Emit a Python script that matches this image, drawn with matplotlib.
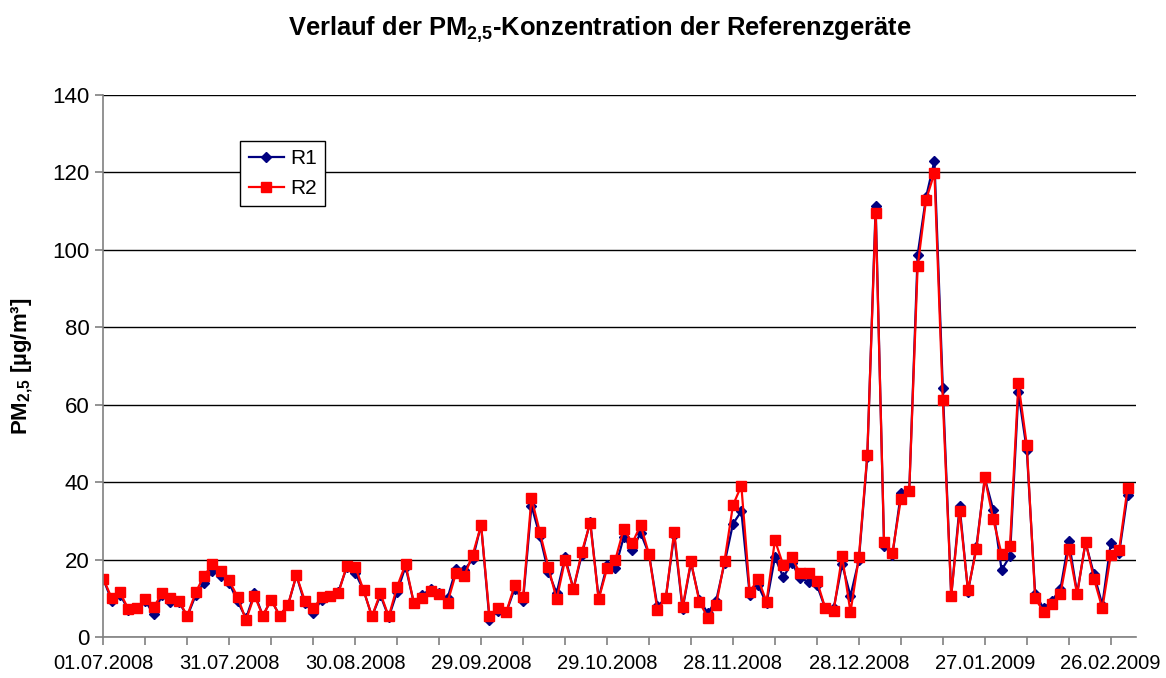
import numpy as np
import pandas as pd
import matplotlib
matplotlib.use("Agg")
import matplotlib.pyplot as plt
import matplotlib.dates as mdates

plt.rcParams["font.family"] = ["Liberation Sans", "DejaVu Sans"]
plt.rcParams["mathtext.fontset"] = "custom"
plt.rcParams["mathtext.default"] = "regular"

# ===== DATA =====
start = pd.Timestamp("2008-07-01")
dates = pd.date_range(start, periods=123, freq="2D")

r1 = [15.0, 9.4, 10.9, 7.0, 7.4, 9.3, 5.9, 10.9, 9.0, 9.1,
      5.3, 10.8, 14.0, 17.0, 15.8, 13.9, 9.2, 4.8, 11.3, 5.5,
      9.6, 5.5, 8.2, 15.9, 8.7, 6.3, 9.6, 10.6, 11.7, 18.0,
      16.6, 12.1, 5.3, 10.8, 5.1, 11.7, 18.2, 8.7, 10.8, 12.5,
      11.3, 10.0, 17.5, 17.3, 20.1, 29.0, 4.4, 6.8, 6.4, 12.5,
      9.4, 33.9, 26.1, 16.9, 11.3, 20.6, 12.4, 21.3, 29.8, 10.0,
      18.5, 17.9, 25.9, 22.5, 26.9, 21.4, 7.9, 10.0, 26.4, 7.2,
      19.2, 9.6, 6.2, 9.4, 19.1, 29.2, 32.5, 10.9, 13.3, 8.7,
      20.6, 15.4, 19.2, 15.2, 14.3, 13.4, 7.4, 7.4, 18.8, 10.6,
      19.9, 46.4, 111.2, 23.6, 21.2, 37.1, 37.7, 98.7, 113.6, 123.0,
      64.2, 10.6, 33.8, 11.7, 23.3, 41.0, 32.9, 17.3, 20.9, 63.2,
      48.3, 11.1, 7.4, 9.4, 12.3, 24.8, 11.3, 24.4, 16.2, 8.3,
      24.2, 21.6, 36.7]

r2 = [15.1, 10.0, 11.5, 7.1, 7.4, 9.9, 7.7, 11.3, 10.0, 9.3,
      5.5, 11.5, 15.8, 18.8, 17.0, 14.6, 10.3, 4.4, 10.7, 5.5,
      9.6, 5.5, 8.3, 15.9, 9.4, 7.4, 10.2, 10.6, 11.3, 18.4,
      18.2, 12.1, 5.3, 11.3, 5.3, 13.0, 18.8, 8.7, 10.0, 12.0,
      11.0, 8.9, 16.4, 15.8, 21.2, 28.9, 5.3, 7.4, 6.4, 13.4,
      10.2, 35.9, 27.1, 18.2, 9.7, 19.9, 12.4, 22.0, 29.5, 9.7,
      17.7, 20.0, 28.0, 24.2, 28.9, 21.4, 7.0, 10.0, 27.2, 7.7,
      19.5, 9.1, 5.0, 8.3, 19.7, 34.0, 39.1, 11.6, 15.0, 9.1,
      25.0, 18.5, 20.6, 16.4, 16.4, 14.5, 7.4, 6.8, 20.9, 6.4,
      20.6, 47.0, 109.5, 24.5, 21.8, 35.6, 37.8, 95.7, 112.9, 119.9,
      61.2, 10.6, 32.6, 12.1, 22.7, 41.2, 30.4, 21.4, 23.5, 65.5,
      49.6, 10.0, 6.5, 8.4, 11.0, 22.8, 11.0, 24.6, 15.1, 7.4,
      21.1, 22.5, 38.4]

labels = ["R1", "R2"]
# ================

fig = plt.figure(figsize=(11.66, 6.78), dpi=100)
ax = fig.add_axes([0.0886, 0.0605, 0.8856, 0.7994])

ax.plot(dates, r1, color="#000080", marker="D", markersize=5, linewidth=1.6, label=labels[0])
ax.plot(dates, r2, color="#FF0000", marker="s", markersize=7, linewidth=1.6, label=labels[1])

ax.set_ylim(0, 140)
ax.set_yticks(np.arange(0, 141, 20))
ax.set_xlim(start, start + pd.Timedelta(days=246))

major = [start + pd.Timedelta(days=30 * k) for k in range(9)]
minor = [start + pd.Timedelta(days=10 * k) for k in range(25)]
ax.set_xticks(major)
ax.set_xticks(minor, minor=True)
ax.xaxis.set_major_formatter(mdates.DateFormatter("%d.%m.%Y"))

ax.grid(axis="y", color="black", linewidth=1)
ax.set_axisbelow(True)
for s in ["top", "right"]:
    ax.spines[s].set_visible(False)
for s in ["left", "bottom"]:
    ax.spines[s].set_color("#808080")
    ax.spines[s].set_linewidth(1.2)

ax.tick_params(axis="both", which="both", colors="#808080", labelcolor="black",
               length=6, width=1.2)
ax.tick_params(axis="x", labelsize=14.5, pad=6)
ax.tick_params(axis="y", labelsize=16, pad=4)

ax.set_ylabel("PM$_{2{,}5}$ [µg/m³]", fontsize=16, fontweight="bold")
ax.yaxis.set_label_coords(-0.066, 0.5)
fig.text(0.5146, 0.956, "Verlauf der PM$_{2{,}5}$-Konzentration der Referenzgeräte",
         fontsize=18.4, fontweight="bold", ha="center", va="center")

leg = ax.legend(loc="upper left", bbox_to_anchor=(0.1326, 0.915), borderaxespad=0,
                fontsize=15, frameon=True, fancybox=False, edgecolor="black",
                framealpha=1, handlelength=1.7, borderpad=0.4, labelspacing=0.5,
                handletextpad=0.3)
leg.get_frame().set_linewidth(1)

fig.savefig("out.png", dpi=100)
